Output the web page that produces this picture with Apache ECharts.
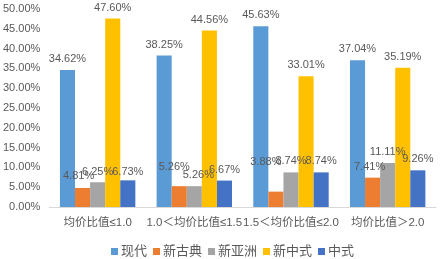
<!DOCTYPE html>
<html><head><meta charset="utf-8">
<script src="https://cdn.jsdelivr.net/npm/echarts@6/dist/echarts.min.js"></script>
<style>html,body{margin:0;padding:0;background:#fff}#c{width:441px;height:259px}</style>
</head><body><div id="c"></div>
<script>
const categories = ['均价比值≤1.0', '1.0＜均价比值≤1.5', '1.5＜均价比值≤2.0', '均价比值＞2.0'];
const seriesNames = ['现代', '新古典', '新亚洲', '新中式', '中式'];
const xiandai = [34.62, 38.25, 45.63, 37.04];
const xingudian = [4.81, 5.26, 3.88, 7.41];
const xinyazhou = [6.25, 5.26, 8.74, 11.11];
const xinzhongshi = [47.60, 44.56, 33.01, 35.19];
const zhongshi = [6.73, 6.67, 8.74, 9.26];
const colors = ['#5B9BD5', '#ED7D31', '#A5A5A5', '#FFC000', '#4472C4'];
const values = [xiandai, xingudian, xinyazhou, xinzhongshi, zhongshi];
// manual label nudges (as in the source chart), keyed "series-category"
const labelNudge = {'1-0': [-4, -1], '2-0': [0, 1], '4-0': [0, 3], '1-1': [-5, -8], '2-1': [4, 0], '1-2': [-10, -19], '1-3': [-3, 0]};
const font = 'Liberation Sans, Arial, Noto Sans CJK SC, sans-serif';
const chart = echarts.init(document.getElementById('c'));
chart.setOption({
  animation: false,
  color: colors,
  textStyle: {fontFamily: font},
  grid: {left: 48, right: 5, top: 9, bottom: 52, containLabel: false},
  legend: {
    top: 240, left: 106, itemWidth: 7, itemHeight: 7, itemGap: 6,
    icon: 'rect',
    textStyle: {color: '#595959', fontSize: 13, fontFamily: font, padding: [0,0,0,-2]},
    data: seriesNames
  },
  xAxis: {
    type: 'category', data: categories,
    axisLine: {lineStyle: {color: '#D9D9D9'}},
    axisTick: {show: false},
    axisLabel: {color: '#595959', fontSize: 11.5, margin: 10, interval: 0}
  },
  yAxis: {
    type: 'value', min: 0, max: 50, interval: 5,
    splitLine: {show: false},
    axisLine: {show: false}, axisTick: {show: false},
    axisLabel: {color: '#595959', fontSize: 11, margin: 9, formatter: v => v.toFixed(2) + '%'}
  },
  series: seriesNames.map((n, i) => ({
    name: n, type: 'bar',
    data: values[i].map((v, j) => {
      const o = labelNudge[i + '-' + j];
      return o ? {value: v, label: {offset: o}} : v;
    }),
    barGap: '0%', barCategoryGap: '22%',
    label: {show: true, position: 'top', distance: 5.5, color: '#595959', fontSize: 11,
      formatter: p => p.value.toFixed(2) + '%'}
  }))
});
</script></body></html>
